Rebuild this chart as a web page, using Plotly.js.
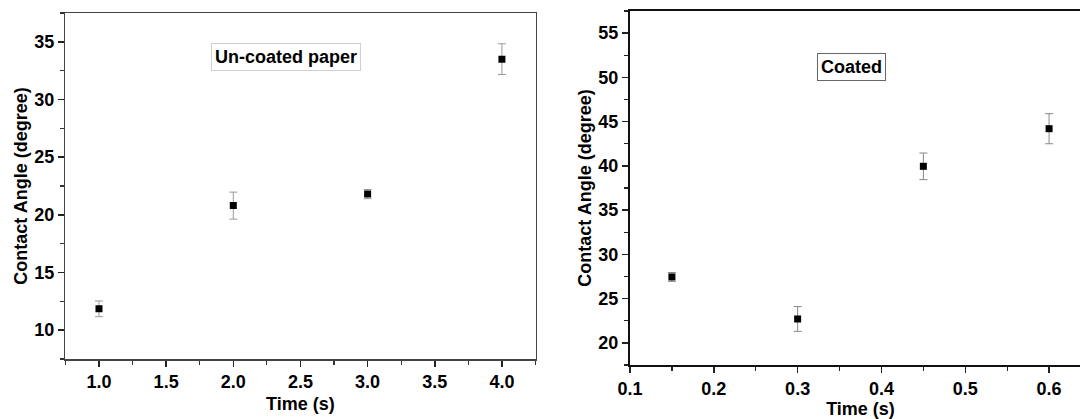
<!DOCTYPE html>
<html>
<head>
<meta charset="utf-8">
<script src="https://cdn.plot.ly/plotly-3.0.1.min.js"></script>
<style>
  html, body { margin: 0; padding: 0; overflow: hidden; background: #fff; }
  #chart { width: 1100px; height: 419px; }
</style>
</head>
<body>
<div id="chart"></div>
<script>
// Un-coated paper
const uncoatedTime = [1.0, 2.0, 3.0, 4.0];
const uncoatedAngle = [11.85, 20.8, 21.8, 33.5];
const uncoatedErr = [0.68, 1.17, 0.4, 1.33];

// Coated
const coatedTime = [0.15, 0.30, 0.45, 0.60];
const coatedAngle = [27.45, 22.7, 39.95, 44.2];
const coatedErr = [0.5, 1.4, 1.5, 1.7];

const panelLabels = ["Un-coated paper", "Coated"];
const xTitle = "Time (s)";
const yTitle = "Contact Angle (degree)";

const FONT = "'Liberation Sans', Arial, sans-serif";
const tickFont = { family: FONT, size: 18, color: '#000', weight: 700 };
const titleFont = { family: FONT, size: 18, color: '#000', weight: 700 };

const traces = [
  {
    x: uncoatedTime, y: uncoatedAngle, type: 'scatter', mode: 'markers',
    xaxis: 'x', yaxis: 'y',
    marker: { symbol: 'square', size: 7, color: '#000' },
    error_y: { type: 'data', array: uncoatedErr, visible: true, color: '#999', thickness: 1, width: 4 },
    showlegend: false, hoverinfo: 'x+y'
  },
  {
    x: coatedTime, y: coatedAngle, type: 'scatter', mode: 'markers',
    xaxis: 'x2', yaxis: 'y2',
    marker: { symbol: 'square', size: 7, color: '#000' },
    error_y: { type: 'data', array: coatedErr, visible: true, color: '#888', thickness: 1, width: 4 },
    showlegend: false, hoverinfo: 'x+y'
  }
];

const W = 1100;
const axCommon = {
  showgrid: false, zeroline: false, showline: true, mirror: true,
  ticks: 'outside', ticklen: 6, tickwidth: 1.5, tickcolor: '#222',
  tickfont: tickFont, automargin: false
};

const layout = {
  width: W, height: 419,
  margin: { l: 0, r: W - 1091, t: 11, b: 54 },
  paper_bgcolor: '#fff', plot_bgcolor: '#fff',
  showlegend: false,
  xaxis: Object.assign({}, axCommon, {
    domain: [65.4 / 1091, 535.5 / 1091], anchor: 'y',
    range: [0.75, 4.25], tick0: 1.0, dtick: 0.5, tickformat: '.1f',
    linecolor: '#444', linewidth: 1.5,
    minor: { dtick: 0.25, tick0: 0.75, ticks: 'outside', ticklen: 4, tickwidth: 1.2, tickcolor: '#333' },
    title: { text: xTitle, font: titleFont, standoff: 6 }
  }),
  yaxis: Object.assign({}, axCommon, {
    domain: [6 / 354, 1 - 2 / 354], anchor: 'x',
    range: [7.5, 37.5], tick0: 0, dtick: 5,
    linecolor: '#444', linewidth: 1.5,
    minor: { dtick: 2.5, tick0: 0, ticks: 'outside', ticklen: 4, tickwidth: 1.2, tickcolor: '#333' },
    title: { text: yTitle, font: titleFont, standoff: 2 }
  }),
  xaxis2: Object.assign({}, axCommon, {
    domain: [630 / 1091, 1], anchor: 'y2',
    range: [0.1, 0.65], tick0: 0.1, dtick: 0.1, tickformat: '.1f',
    linecolor: '#111', linewidth: 2,
    minor: { dtick: 0.05, tick0: 0.1, ticks: 'outside', ticklen: 4, tickwidth: 1.2, tickcolor: '#222' },
    title: { text: xTitle, font: titleFont, standoff: 10 }
  }),
  yaxis2: Object.assign({}, axCommon, {
    domain: [0, 1], anchor: 'x2',
    range: [17.5, 57.5], tick0: 0, dtick: 5,
    linecolor: '#111', linewidth: 2,
    minor: { dtick: 2.5, tick0: 0, ticks: 'outside', ticklen: 4, tickwidth: 1.2, tickcolor: '#222' },
    title: { text: yTitle, font: titleFont, standoff: 2 }
  }),
  annotations: [
    {
      text: panelLabels[0], xref: 'x domain', yref: 'y domain', x: 0.469, y: 0.874,
      xanchor: 'center', yanchor: 'middle', showarrow: false,
      font: { family: FONT, size: 18, color: '#000', weight: 700 },
      bordercolor: '#d0d0d0', borderwidth: 1, borderpad: 3, bgcolor: '#fff'
    },
    {
      text: panelLabels[1], xref: 'x2 domain', yref: 'y2 domain', x: 0.480, y: 0.843,
      xanchor: 'center', yanchor: 'middle', showarrow: false,
      font: { family: FONT, size: 18, color: '#000', weight: 700 },
      bordercolor: '#666', borderwidth: 1, borderpad: 3, bgcolor: '#fff'
    }
  ]
};

Plotly.newPlot('chart', traces, layout, { staticPlot: true, displayModeBar: false });
</script>
</body>
</html>
